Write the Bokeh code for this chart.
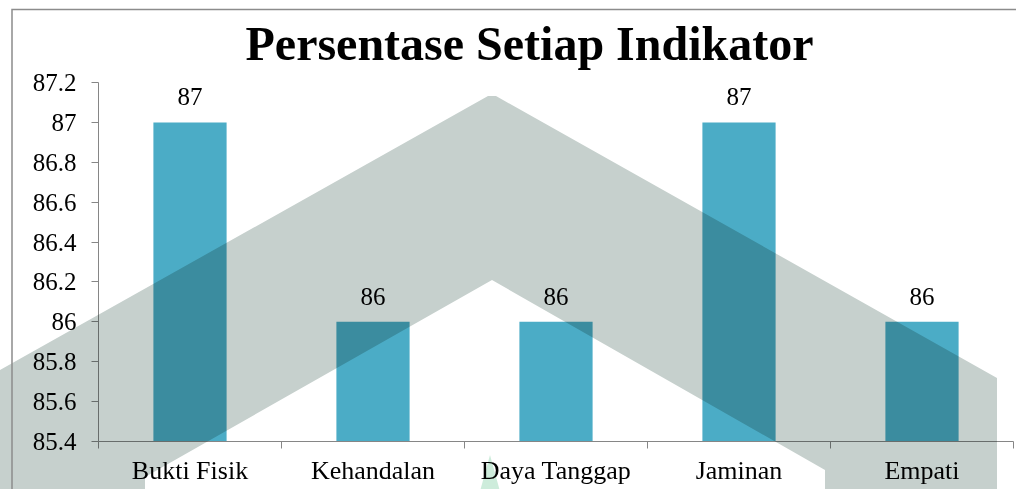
import urllib.parse
from bokeh.plotting import figure
from bokeh.models import (Range1d, FixedTicker, CustomJSTickFormatter,
                          ColumnDataSource, LabelSet, InlineStyleSheet)
from bokeh.embed import file_html
from bokeh.resources import INLINE

# ---- data ----
categories = ["Bukti Fisik", "Kehandalan", "Daya Tanggap", "Jaminan", "Empati"]
values = [87, 86, 86, 87, 86]
value_labels = ["87", "86", "86", "87", "86"]
y_ticks = [85.4, 85.6, 85.8, 86.0, 86.2, 86.4, 86.6, 86.8, 87.0, 87.2]
title_text = "Persentase Setiap Indikator"

# ---- styles ----
FONT = "'Liberation Serif', 'Times New Roman', serif"
BAR = "#4BACC6"
AXIS = "#868686"
W, H = 1016, 489
ML, MR, MT, MB = 98, 3, 82, 48

n = len(categories)
centers = [i + 0.5 for i in range(n)]      # category slot centres on a 0..n axis

p = figure(width=W, height=H,
           x_range=Range1d(0, n),
           y_range=Range1d(y_ticks[0], y_ticks[-1]),
           output_backend="svg", toolbar_location=None,
           min_border_left=ML, min_border_right=MR,
           min_border_top=MT, min_border_bottom=MB)
p.outline_line_color = None
p.xgrid.visible = False
p.ygrid.visible = False
p.background_fill_color = "white"
p.border_fill_color = "white"

src = ColumnDataSource(dict(x=centers, cat=categories, val=values, lab=value_labels))
p.vbar(x="x", top="val", bottom=y_ticks[0], width=0.4, source=src,
       fill_color=BAR, line_color=None)

p.add_layout(LabelSet(x="x", y="val", text="lab", source=src,
                      text_align="center", text_baseline="bottom", y_offset=17,
                      text_font=FONT, text_font_size="25px", text_color="black"))

# y axis
ya = p.yaxis[0]
ya.ticker = FixedTicker(ticks=y_ticks)
ya.formatter = CustomJSTickFormatter(code="return String(Math.round(tick*10)/10)")
ya.axis_line_color = AXIS
ya.major_tick_line_color = AXIS
ya.major_tick_out = 7
ya.major_tick_in = 0
ya.minor_tick_line_color = None
ya.major_label_standoff = 15
ya.major_label_text_font = FONT
ya.major_label_text_font_size = "25px"
ya.major_label_text_color = "black"

# x axis: boundary ticks (minor) and centred category labels (major)
xa = p.xaxis[0]
xa.ticker = FixedTicker(ticks=centers, minor_ticks=list(range(n + 1)))
xa.major_label_overrides = {c: lab for c, lab in zip(centers, categories)}
xa.axis_line_color = AXIS
xa.major_tick_line_color = None
xa.major_tick_out = 0
xa.major_tick_in = 0
xa.minor_tick_line_color = AXIS
xa.minor_tick_out = 7
xa.minor_tick_in = 0
xa.major_label_standoff = 7
xa.major_label_text_font = FONT
xa.major_label_text_font_size = "26px"
xa.major_label_text_color = "black"

# title
p.title.text = title_text
p.title.align = "left"
p.title.offset = 147
p.title.standoff = 26
p.title.text_font = FONT
p.title.text_font_size = "48px"
p.title.text_font_style = "bold"
p.title.text_color = "black"

# scanned-page decoration (watermark + page frame), multiplied over the chart
watermark_px = [(0, 370), (488, 96), (496, 96), (997, 378), (997, 500), (825, 500),
                (825, 470), (492, 280), (145, 477), (145, 500), (0, 500)]
leaf_px = [(490, 455), (501, 495), (479, 495)]
pts = lambda ps: " ".join(f"{a},{b}" for a, b in ps)
svg = (f"<svg xmlns='http://www.w3.org/2000/svg' width='{W}' height='{H}'>"
       f"<polygon points='{pts(watermark_px)}' fill='rgb(198,208,205)'/>"
       f"<polygon points='{pts(leaf_px)}' fill='rgb(205,236,219)'/>"
       f"<polyline points='12,{H} 12,9.5 {W},9.5' fill='none' stroke='rgb(140,140,140)' stroke-width='1.5'/>"
       f"</svg>")
uri = "data:image/svg+xml," + urllib.parse.quote(svg, safe="")
css = (":host { position: relative; }\n"
       ":host::after { content: ''; position: absolute; left: 0; top: 0; "
       f"width: {W}px; height: {H}px; background: url(\"{uri}\") no-repeat; "
       "mix-blend-mode: multiply; pointer-events: none; z-index: 10; }")
p.stylesheets = [InlineStyleSheet(css=css)]

open("out.html", "w").write(file_html(p, INLINE))
